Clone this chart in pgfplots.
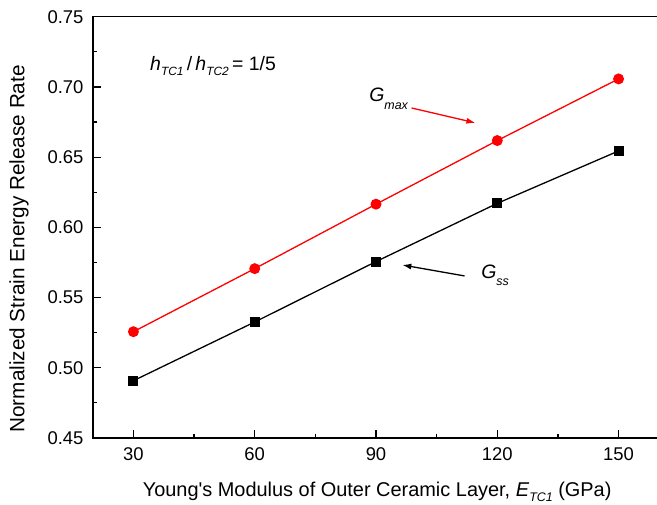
\documentclass[border=0pt]{standalone}
\usepackage{pgfplots}
\pgfplotsset{compat=1.18}
\usetikzlibrary{arrows.meta}
\usepackage{fontspec}
\setmainfont{Liberation Sans}
\newfontfamily\plainfont{Liberation Sans}
\newcommand\sub[3]{\raisebox{-#1}{\fontsize{#2}{#2}\selectfont\textit{#3}}}
\begin{document}
\begin{tikzpicture}
\begin{axis}[
  scale only axis,
  width=566bp, height=421.3bp,
  xmin=20, xmax=160, ymin=0.45, ymax=0.75,
  xtick={30,60,90,120,150},
  ytick={0.45,0.50,0.55,0.60,0.65,0.70,0.75},
  minor x tick num=1, minor y tick num=1,
  tick align=inside,
  xtick pos=bottom, ytick pos=left,
  major tick length=8bp, minor tick length=4bp,
  axis line style={line width=1.6bp},
  every tick/.style={black, line width=1.2bp},
  /pgf/number format/assume math mode=true,
  yticklabel style={/pgf/number format/fixed, /pgf/number format/fixed zerofill, /pgf/number format/precision=2, xshift=-6bp},
  ticklabel style={font=\fontsize{18.5}{18.5}\selectfont},
  xticklabel style={yshift=-6bp},
  xlabel={Young{\plainfont\char39}s Modulus of Outer Ceramic Layer, \textit{E}\sub{5.5bp}{12.5}{TC1} (GPa)},
  ylabel={Normalized Strain Energy Release Rate},
  xlabel style={font=\fontsize{20}{20}\selectfont, at={(axis description cs:0.502,0)}, anchor=base, yshift=-58bp},
  ylabel style={font=\fontsize{20.8}{20.8}\selectfont, at={(axis description cs:0,0.449)}, anchor=center, yshift=74bp},
  clip=false,
]
\addplot[red, line width=1.3bp, mark=*, mark size=4.8bp, mark options={solid, fill=red}]
  coordinates {(30,0.5257) (60,0.5706) (90,0.6165) (120,0.6618) (150,0.7057)};
\addplot[black, line width=1.3bp, mark=square*, mark size=4.3bp, mark options={solid, fill=black}]
  coordinates {(30,0.4908) (60,0.5326) (90,0.5756) (120,0.6171) (150,0.6544)};

\node[anchor=base west, inner sep=0pt, font=\fontsize{19.5}{19.5}\selectfont] at (axis cs:34.1,0.7115)
  {\textit{h}\sub{5bp}{12}{TC1}\,/\,\textit{h}\sub{5bp}{12}{TC2}\,= 1/5};
\node[anchor=base west, inner sep=0pt, font=\fontsize{19.5}{19.5}\selectfont] at (axis cs:88.3,0.6895)
  {\textit{G}\sub{7.5bp}{12.5}{max}};
\draw[red, line width=1.3bp, -{Latex[length=9bp,width=6bp]}] (axis cs:98.8,0.685) -- (axis cs:114.6,0.6744);
\node[anchor=base west, inner sep=0pt, font=\fontsize{19.5}{19.5}\selectfont] at (axis cs:116,0.5635)
  {\textit{G}\sub{7bp}{12.5}{ss}};
\draw[black, line width=1.3bp, -{Latex[length=9bp,width=6bp]}] (axis cs:111.9,0.5654) -- (axis cs:96.5,0.5732);
\end{axis}
\pgfresetboundingbox
\path[use as bounding box] (-93bp,-67bp) rectangle (564bp,438bp);
\end{tikzpicture}
\end{document}
